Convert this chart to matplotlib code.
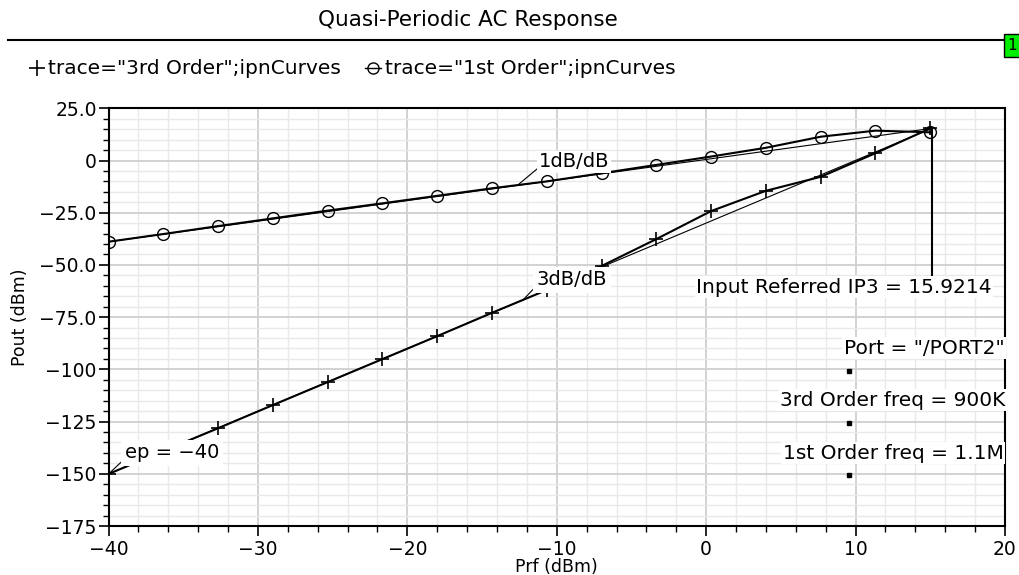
import matplotlib
matplotlib.use('Agg')
import matplotlib.pyplot as plt
from matplotlib.patches import Rectangle
from matplotlib.lines import Line2D
from matplotlib.ticker import MultipleLocator, FixedLocator

# input power sweep (dBm)
prf = [-40, -36.33, -32.67, -29, -25.33, -21.67, -18, -14.33, -10.67,
       -7, -3.33, 0.33, 4, 7.67, 11.33, 15]
# output power of the two tones (dBm)
pout_1st = [-38.9, -35.2, -31.4, -27.7, -24.0, -20.5, -16.9, -13.3, -10.0,
            -6.1, -2.1, 1.9, 6.1, 11.4, 14.3, 13.5]
pout_3rd = [-150.1, -139.1, -128.2, -117.1, -106.1, -95.1, -84.1, -72.9, -62.0,
            -50.5, -37.6, -24.2, -14.5, -7.8, 3.5, 15.4]

# extrapolated 1dB/dB and 3dB/dB lines, from ep=-40 to the intercept
ext_x = [-40, 15.1]
ext_1st = [-38.9, 15.4]
ext_3rd = [-150.1, 15.4]
ip3_line_x = [15.1, 15.1]
ip3_line_y = [15.4, -61.0]

# anchor dots of the info labels
info_x = [9.58, 9.58, 9.58]
info_y = [-101.0, -125.8, -150.6]

xticks = [-40, -30, -20, -10, 0, 10, 20]
xtick_labels = ['\u221240', '\u221230', '\u221220', '\u221210', '0', '10', '20']
yticks = [-175, -150, -125, -100, -75, -50, -25, 0, 25]
ytick_labels = ['\u2212175', '\u2212150', '\u2212125', '\u2212100', '\u221275.0',
                '\u221250.0', '\u221225.0', '0', '25.0']

W, H = 1019, 575
plt.rcParams['font.family'] = 'DejaVu Sans'

fig = plt.figure(figsize=(W / 100, H / 100), dpi=100)
ax = fig.add_axes([108.5 / W, 1 - 526 / H, (1005 - 108.5) / W, (526 - 108.3) / H])
axw, axh = 1005 - 108.5, 526 - 108.3

# data
ax.plot(prf, pout_1st, color='black', lw=1.5, marker='o', ms=8.5, mfc='none',
        mec='black', mew=1.0, zorder=3)
ax.plot(prf, pout_3rd, color='black', lw=1.5, marker='+', ms=10, mew=1.2, zorder=3)
ax.plot(ext_x, ext_1st, color='black', lw=0.8, zorder=3)
ax.plot(ext_x, ext_3rd, color='black', lw=0.8, zorder=3)
ax.plot(ip3_line_x, ip3_line_y, color='black', lw=1.5, zorder=3)
ax.plot(info_x, info_y, ls='none', marker='s', ms=2.5, color='black', zorder=3)

ax.set_xlim(-40, 20)
ax.set_ylim(-175, 25)
ax.xaxis.set_major_locator(FixedLocator(xticks))
ax.set_xticklabels(xtick_labels)
ax.yaxis.set_major_locator(FixedLocator(yticks))
ax.set_yticklabels(ytick_labels)
ax.xaxis.set_minor_locator(MultipleLocator(2))
ax.yaxis.set_minor_locator(MultipleLocator(5))
ax.grid(which='major', color='#cfcfcf', lw=1.3, zorder=0)
ax.grid(which='minor', color='#e9e9e9', lw=1.0, zorder=0)
ax.set_axisbelow(True)
ax.tick_params(which='major', direction='out', length=7, width=1.2, labelsize=13.5,
               colors='black')
ax.tick_params(axis='y', which='major', pad=1.5)
ax.tick_params(axis='x', which='major', pad=3)
ax.tick_params(which='minor', direction='out', length=4, width=1.0)
for s in ax.spines.values():
    s.set_linewidth(1.5)
    s.set_color('black')

ax.set_xlabel('Prf (dBm)', fontsize=12.5)
ax.xaxis.set_label_coords((556 - 108.5) / axw, -(558 - 526) / axh)
ax.set_ylabel('Pout (dBm)', fontsize=12.5)
ax.yaxis.set_label_coords(-(108.5 - 29) / axw, (526 - 317) / axh)

# slope labels with leaders
box = dict(fc='white', ec='none', pad=1)
lead = dict(arrowstyle='-', lw=0.8, color='black', shrinkA=0, shrinkB=0,
            relpos=(0.0, 0.2))
ax.annotate('1dB/dB', xy=(-12.6, -11.7), xytext=(-11.2, -0.6), fontsize=14,
            ha='left', va='center', bbox=box, arrowprops=lead, zorder=5)
ax.annotate('3dB/dB', xy=(-12.3, -67.1), xytext=(-11.35, -57.2), fontsize=14,
            ha='left', va='center', bbox=dict(fc='white', ec='none', pad=2.5),
            arrowprops=lead, zorder=5)
ax.annotate('ep = \u221240', xy=(-40, -150.1), xytext=(-38.9, -140.0), fontsize=14,
            ha='left', va='center', bbox=dict(fc='white', ec='none', pad=2.5),
            arrowprops=lead, zorder=5)

ax.text(19.1, -60.7, 'Input Referred IP3 = 15.9214', fontsize=14.5, ha='right',
        va='center', bbox=box, zorder=5)
ax.text(19.95, -89.9, 'Port = "/PORT2"', fontsize=14.5, ha='right', va='center',
        bbox=box, zorder=5)
ax.text(20.05, -114.7, '3rd Order freq = 900K', fontsize=14.5, ha='right',
        va='center', bbox=box, zorder=5)
ax.text(19.9, -140.2, '1st Order freq = 1.1M', fontsize=14.5, ha='right',
        va='center', bbox=box, zorder=5)

# header: title, rule, legend, green tab
fig.text(468 / W, 1 - 20 / H, 'Quasi-Periodic AC Response', fontsize=15.5,
         ha='center', va='center')
fig.add_artist(Line2D([8 / W, 1003 / W], [1 - 40 / H, 1 - 40 / H], color='black',
                      lw=1.5, transform=fig.transFigure))
fig.add_artist(Rectangle((1004 / W, 1 - 57 / H), 16 / W, 23 / H, facecolor='#00ee00',
                         edgecolor='black', lw=1.0, transform=fig.transFigure))
fig.text(1007 / W, 1 - 46 / H, '1', fontsize=11, ha='left', va='center')

ly = 1 - 68 / H
fig.add_artist(Line2D([37 / W], [ly], marker='+', ms=11, mew=1.2, color='black',
                      transform=fig.transFigure))
fig.text(48 / W, ly, 'trace="3rd Order";ipnCurves', fontsize=14.5,
         ha='left', va='center')
fig.add_artist(Line2D([365 / W, 381 / W], [ly, ly], color='black', lw=1.0,
                      transform=fig.transFigure))
fig.add_artist(Line2D([373 / W], [ly], marker='o', ms=8, mfc='none', mec='black',
                      mew=1.0, transform=fig.transFigure))
fig.text(385 / W, ly, 'trace="1st Order";ipnCurves', fontsize=14.5,
         ha='left', va='center')

fig.savefig('out.png', dpi=100, facecolor='white')
